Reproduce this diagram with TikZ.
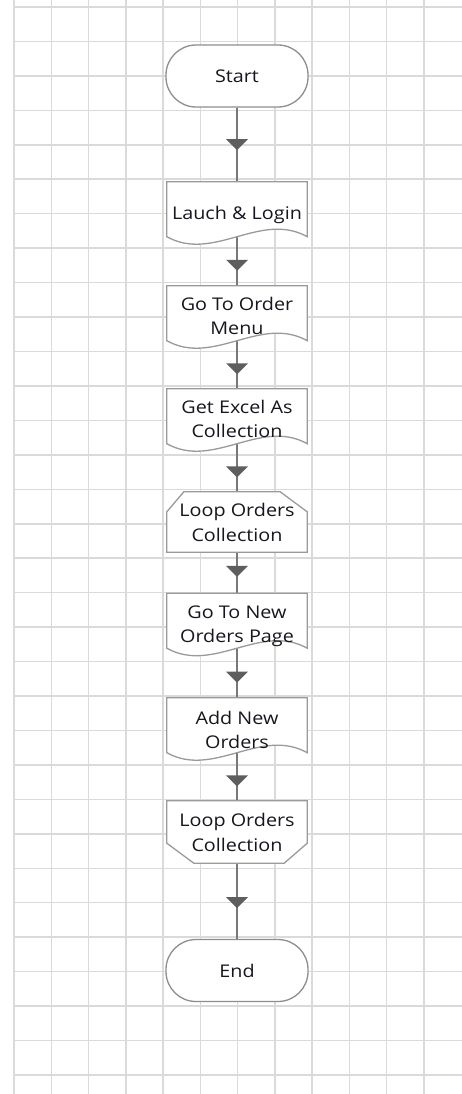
\documentclass[tikz,border=0pt]{standalone}
\usepackage{fontspec}
\setmainfont{Open Sans}[FakeStretch=1.13]
\usetikzlibrary{decorations.markings}
\definecolor{gridc}{HTML}{DADADA}
\definecolor{boxc}{HTML}{9A9A9A}
\definecolor{termc}{HTML}{8E8E8E}
\definecolor{linec}{HTML}{787878}
\definecolor{headc}{HTML}{5E5E5E}
\definecolor{txtc}{HTML}{16161E}
\tikzset{
  gridline/.style={draw=gridc, line width=1.5pt},
  terminal/.style={draw=termc, line width=1.3pt, fill=white, rounded corners=30pt,
    minimum width=142pt, minimum height=62pt, inner sep=0pt, text=txtc,
    font=\fontsize{17.5}{24.5}\selectfont},
  shapebox/.style={draw=none, minimum width=140pt, inner sep=0pt},
  boxline/.style={draw=boxc, line width=1.3pt, fill=white},
  steptext/.style={text=txtc, font=\fontsize{17.5}{24.5}\selectfont, align=center, inner sep=0pt},
  flow/.style={draw=linec, line width=1.8pt, postaction=decorate,
    decoration={markings, mark=at position 0.5 with
      {\fill[headc] (5.5pt+#1,0pt) -- (-5.5pt+#1,11pt) -- (-5.5pt+#1,-11pt) -- cycle;}}},
  flow/.default=0pt,
}
\begin{document}
\begin{tikzpicture}[x=1pt, y=-1pt]
\useasboundingbox (0,0) rectangle (462,1094);
\fill[white] (0,0) rectangle (462,1094);
% grid
\foreach \i in {0,...,11} \draw[gridline] ({14+37.27*\i},0) -- ({14+37.27*\i},1094);
\foreach \j in {0,...,31} \draw[gridline] (14,{7+34.45*\j}) -- (462,{7+34.45*\j});

% shape placeholders
\node[terminal] (start) at (237,76) {Start};
\node[shapebox, minimum height=54.5pt] (launch) at (237,209.25) {};
\node[shapebox, minimum height=54.5pt] (order) at (237,313.25) {};
\node[shapebox, minimum height=54.5pt] (excel) at (237,416.25) {};
\node[shapebox, minimum height=60pt] (loopa) at (237,522) {};
\node[shapebox, minimum height=54.5pt] (newpage) at (237,620.75) {};
\node[shapebox, minimum height=54.5pt] (addnew) at (237,725.25) {};
\node[shapebox, minimum height=62pt] (loopb) at (237,832) {};
\node[terminal] (end) at (237,970.5) {End};

% connectors
\draw[flow] (start.south) -- (launch.north);
\draw[flow=4pt] (launch.south) -- (order.north);
\draw[flow=4pt] (order.south) -- (excel.north);
\draw[flow=4pt] (excel.south) -- (loopa.north);
\draw[flow=-1.5pt] (loopa.south) -- (newpage.north);
\draw[flow=4pt] (newpage.south) -- (addnew.north);
\draw[flow=4pt] (addnew.south) -- (loopb.north);
\draw[flow=1.5pt] (loopb.south) -- (end.north);

% document outlines
\foreach \n in {launch,order,excel,newpage,addnew}{
  \draw[boxline] (\n.north west) -- (\n.north east) -- (\n.south east)
    .. controls +(-46.67pt,26pt) and +(46.67pt,-26pt) .. (\n.south west) -- cycle;
}
% loop start
\draw[boxline] (loopa.south west) -- ([yshift=-20pt]loopa.north west) -- ([xshift=17pt]loopa.north west)
  -- ([xshift=-27pt]loopa.north east) -- ([yshift=-20pt]loopa.north east) -- (loopa.south east) -- cycle;
% loop end
\draw[boxline] (loopb.north west) -- (loopb.north east) -- ([yshift=20pt]loopb.south east)
  -- ([xshift=-23pt]loopb.south east) -- ([xshift=27pt]loopb.south west) -- ([yshift=20pt]loopb.south west) -- cycle;

% texts
\node[steptext] (launcht) at (237,214.5) {Lauch \& Login};
\node[steptext] (ordert) at (237,316) {Go To Order\\Menu};
\node[steptext] (excelt) at (237,419) {Get Excel As\\Collection};
\node[steptext] (loopat) at (237,522.5) {Loop Orders\\Collection};
\node[steptext] (newpaget) at (237,626.5) {Go To New\\Orders Page};
\node[steptext] (addnewt) at (237,730) {Add New\\Orders};
\node[steptext] (loopbt) at (237,832.5) {Loop Orders\\Collection};
\end{tikzpicture}
\end{document}
